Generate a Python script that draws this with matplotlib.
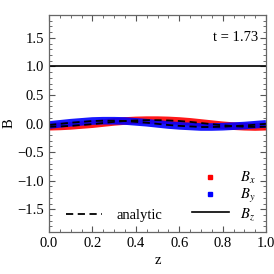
import matplotlib
matplotlib.use('Agg')
import matplotlib.pyplot as plt
from matplotlib.lines import Line2D
from matplotlib.ticker import MultipleLocator

plt.rcParams['font.family'] = ['Liberation Serif', 'DejaVu Serif']
plt.rcParams['mathtext.fontset'] = 'stix'

z = [0.0, 0.05, 0.1, 0.15, 0.2, 0.25, 0.3, 0.35, 0.4, 0.45, 0.5,
     0.55, 0.6, 0.65, 0.7, 0.75, 0.8, 0.85, 0.9, 0.95, 1.0]
bx = [-0.055, -0.05, -0.04, -0.025, -0.01, 0.01, 0.03, 0.045, 0.055, 0.06, 0.06,
      0.055, 0.045, 0.03, 0.01, -0.01, -0.03, -0.045, -0.055, -0.06, -0.055]
by = [-0.025, -0.005, 0.015, 0.03, 0.045, 0.05, 0.05, 0.045, 0.03, 0.015, -0.005,
      -0.025, -0.04, -0.05, -0.06, -0.06, -0.055, -0.045, -0.035, -0.02, -0.005]
bz = [1.0] * len(z)
time_label = 't = 1.73'

fig = plt.figure(figsize=(2.74, 2.74), dpi=100)
ax = fig.add_axes([0.179, 0.153, 0.792, 0.792])

ax.plot(z, bx, color='red', lw=5.5, solid_capstyle='butt', alpha=0.9)
ax.plot(z, by, color='blue', lw=5.5, solid_capstyle='butt', alpha=0.9)
ax.plot(z, bx, color='black', lw=1.3, ls=(0, (4, 2.5)))
ax.plot(z, by, color='black', lw=1.3, ls=(0, (4, 2.5)))
ax.plot(z, bz, color='black', lw=1.2)

ax.set_xlim(0, 1)
ax.set_ylim(-1.9, 1.9)
ax.xaxis.set_major_locator(MultipleLocator(0.2))
ax.xaxis.set_minor_locator(MultipleLocator(0.05))
ax.yaxis.set_major_locator(MultipleLocator(0.5))
ax.yaxis.set_minor_locator(MultipleLocator(0.1))
ax.tick_params(which='both', direction='in', top=True, right=True,
               color='#555555', labelsize=10.5)
ax.tick_params(which='major', length=4, width=0.8)
ax.tick_params(which='minor', length=2, width=0.6)
for s in ax.spines.values():
    s.set_color('#666666')
    s.set_linewidth(0.9)
ax.set_xlabel('z', fontsize=10.5, labelpad=3)
ax.set_ylabel('B', fontsize=10.5, labelpad=1)

ax.text(0.965, 0.895, time_label, transform=ax.transAxes, ha='right',
        va='center', fontsize=10.5)

h_right = [Line2D([], [], color='red', marker='s', ls='none', ms=3.5),
           Line2D([], [], color='blue', marker='s', ls='none', ms=3.5),
           Line2D([], [], color='black', lw=1.2)]
leg1 = ax.legend(h_right, ['$B_x$', '$B_y$', '$B_z$'], loc='lower right',
                 frameon=False, fontsize=10.5, handlelength=2.5,
                 labelspacing=0.05, borderaxespad=0.3, handletextpad=0.8)
ax.add_artist(leg1)
h_left = [Line2D([], [], color='black', lw=1.3, ls=(0, (4, 2.5)))]
ax.legend(h_left, ['analytic'], loc='lower left', frameon=False,
          fontsize=10.5, handlelength=2.5, borderaxespad=0.3,
          handletextpad=1.0, bbox_to_anchor=(0.03, 0.0))

fig.savefig('out.png', dpi=100)
